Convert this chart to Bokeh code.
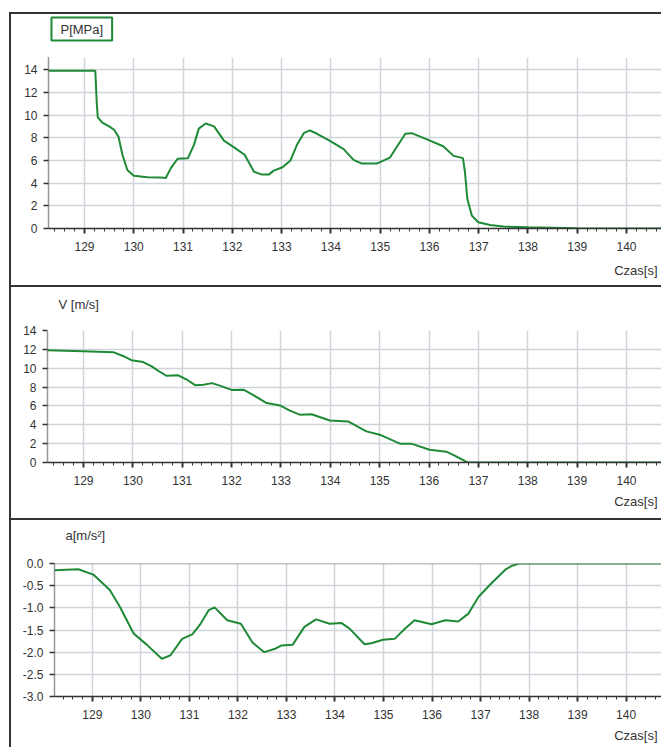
from bokeh.plotting import figure
from bokeh.layouts import column, row
from bokeh.models import (Range1d, SingleIntervalTicker, PrintfTickFormatter, Title, Span, Spacer)
from bokeh.embed import file_html
from bokeh.resources import INLINE

# ---- data ----
p_time = [128.27, 129.0, 129.22, 129.25, 129.27, 129.37, 129.5, 129.6, 129.69, 129.77, 129.87,
          130.0, 130.28, 130.55, 130.65, 130.75, 130.89, 131.1, 131.22, 131.32, 131.46, 131.63,
          131.83, 132.05, 132.25, 132.44, 132.6, 132.74, 132.84, 133.02, 133.18, 133.31, 133.45,
          133.57, 133.72, 133.99, 134.26, 134.46, 134.63, 134.93, 135.2, 135.34, 135.51, 135.64,
          135.95, 136.28, 136.49, 136.68, 136.72, 136.77, 136.86, 136.99, 137.23, 137.5, 138.0,
          138.5, 139.0, 140.75]
p_mpa = [13.9, 13.9, 13.9, 11.0, 9.8, 9.3, 9.0, 8.7, 8.1, 6.5, 5.15,
         4.65, 4.52, 4.5, 4.45, 5.3, 6.15, 6.2, 7.35, 8.8, 9.25, 9.0,
         7.75, 7.1, 6.5, 5.0, 4.75, 4.75, 5.1, 5.4, 6.0, 7.35, 8.4,
         8.65, 8.35, 7.7, 7.0, 6.05, 5.72, 5.72, 6.25, 7.2, 8.35, 8.4,
         7.85, 7.25, 6.4, 6.2, 5.0, 2.6, 1.15, 0.55, 0.3, 0.18, 0.1,
         0.06, 0.02, 0.0]

v_time = [128.27, 129.0, 129.6, 129.8, 129.97, 130.21, 130.38, 130.55, 130.68, 130.92, 131.09,
          131.26, 131.43, 131.6, 131.76, 132.0, 132.24, 132.44, 132.71, 132.98, 133.18, 133.38,
          133.62, 133.99, 134.36, 134.73, 135.0, 135.41, 135.64, 136.01, 136.35, 136.55, 136.78,
          140.75]
v_ms = [11.9, 11.8, 11.7, 11.3, 10.85, 10.65, 10.2, 9.6, 9.2, 9.25, 8.8,
        8.2, 8.25, 8.42, 8.15, 7.7, 7.72, 7.15, 6.3, 6.05, 5.5, 5.07,
        5.12, 4.45, 4.35, 3.3, 2.95, 2.0, 2.0, 1.35, 1.15, 0.65, 0.0,
        0.0]

a_time = [128.22, 128.71, 129.02, 129.36, 129.57, 129.85, 130.12, 130.43, 130.61, 130.85, 131.06,
          131.23, 131.4, 131.52, 131.78, 132.06, 132.3, 132.54, 132.75, 132.89, 133.13, 133.37,
          133.61, 133.89, 134.13, 134.3, 134.61, 134.75, 134.99, 135.23, 135.44, 135.64, 135.99,
          136.27, 136.54, 136.75, 136.96, 137.23, 137.51, 137.65, 137.79, 140.77]
a_ms2 = [-0.15, -0.13, -0.25, -0.6, -0.98, -1.58, -1.83, -2.15, -2.07, -1.7, -1.6,
         -1.36, -1.05, -0.99, -1.28, -1.36, -1.78, -2.0, -1.93, -1.85, -1.83, -1.43,
         -1.26, -1.36, -1.34, -1.47, -1.82, -1.8, -1.72, -1.7, -1.47, -1.28, -1.37,
         -1.28, -1.31, -1.13, -0.75, -0.44, -0.14, -0.05, 0.0, 0.0]

x_label = "Czas[s]"
y_labels = ["P[MPa]", "V [m/s]", "a[m/s²]"]

FONT = "Liberation Sans"
LINE = "#1f8a36"
GRID = "#cfd4d9"
BORDER = "#333333"
TXT = "#333333"


def panel(h, left, top, bottom, xr, yr, yticker, yfmt, ylab, t, y, boxed, lab_gap, lab_off,
          xt_standoff):
    p = figure(width=652, height=h, output_backend="svg", toolbar_location=None,
               x_range=Range1d(*xr), y_range=Range1d(*yr),
               title=x_label, title_location="below",
               min_border_left=left, min_border_right=0,
               min_border_top=top, min_border_bottom=bottom,
               styles={"border-left": f"2px solid {BORDER}", "border-top": f"2px solid {BORDER}"})
    p.outline_line_color = None
    p.background_fill_color = "white"
    p.border_fill_color = "white"
    p.title.align = "right"
    p.title.offset = 6
    p.title.standoff = xt_standoff
    p.title.text_font = FONT
    p.title.text_font_size = "13px"
    p.title.text_font_style = "normal"
    p.title.text_color = TXT

    # invisible spacer title between the frame and the series label
    p.add_layout(Title(text=" ", text_font_size="1px", standoff=lab_gap), "above")
    t_lab = Title(text=ylab, align="left", text_font=FONT, text_font_size="13px",
                  text_font_style="normal", text_color=TXT, standoff=0, offset=lab_off)
    if boxed:
        t_lab.border_line_color = LINE
        t_lab.border_line_width = 2
        t_lab.padding = (9, 4)
    p.add_layout(t_lab, "above")

    p.xaxis.ticker = SingleIntervalTicker(interval=1, num_minor_ticks=5)
    p.yaxis.ticker = yticker
    if yfmt is not None:
        p.yaxis.formatter = yfmt

    for ax in (p.xaxis[0], p.yaxis[0]):
        ax.major_label_text_font = FONT
        ax.major_label_text_font_size = "12px"
        ax.major_label_text_color = TXT
        ax.major_tick_in = 0
        ax.major_tick_out = 5
        ax.major_tick_line_width = 2
        ax.major_tick_line_color = BORDER
    p.xaxis.major_label_standoff = 8
    p.yaxis.major_label_standoff = 6
    p.xaxis.axis_line_color = BORDER
    p.xaxis.axis_line_width = 1.5
    p.xaxis.minor_tick_in = 0
    p.xaxis.minor_tick_out = 3
    p.xaxis.minor_tick_line_color = BORDER
    p.yaxis.axis_line_color = BORDER
    p.yaxis.axis_line_dash = "1 1"
    p.yaxis.axis_line_width = 1.5
    p.yaxis.minor_tick_line_color = None
    p.yaxis.major_tick_line_width = 1.5

    p.grid.grid_line_color = GRID
    p.grid.grid_line_width = 1.5

    p.line(t, y, line_color=LINE, line_width=2)
    return p


p1 = panel(273, 37, 43, 59, (128.27, 140.75), (0, 15.07),
           SingleIntervalTicker(interval=2, num_minor_ticks=0), None,
           y_labels[0], p_time, p_mpa, True, 14, 3, 15)
p2 = panel(233, 36, 43, 58, (128.27, 140.75), (0, 14),
           SingleIntervalTicker(interval=2, num_minor_ticks=0), None,
           y_labels[1], v_time, v_ms, False, 16, 11, 8)
p3 = panel(229, 43, 43, 53, (128.22, 140.77), (-3, 0),
           SingleIntervalTicker(interval=0.5, num_minor_ticks=0), PrintfTickFormatter(format="%.1f"),
           y_labels[2], a_time, a_ms2, False, 18, 11, 9)
p3.add_layout(Span(location=0, dimension="width", line_color="#8a8a8a", line_width=1.5))

layout = row(Spacer(width=9, height=10),
             column(Spacer(height=12, width=10), row(p1), row(p2), row(p3), spacing=0),
             spacing=0)

open("out.html", "w").write(file_html(layout, INLINE))
